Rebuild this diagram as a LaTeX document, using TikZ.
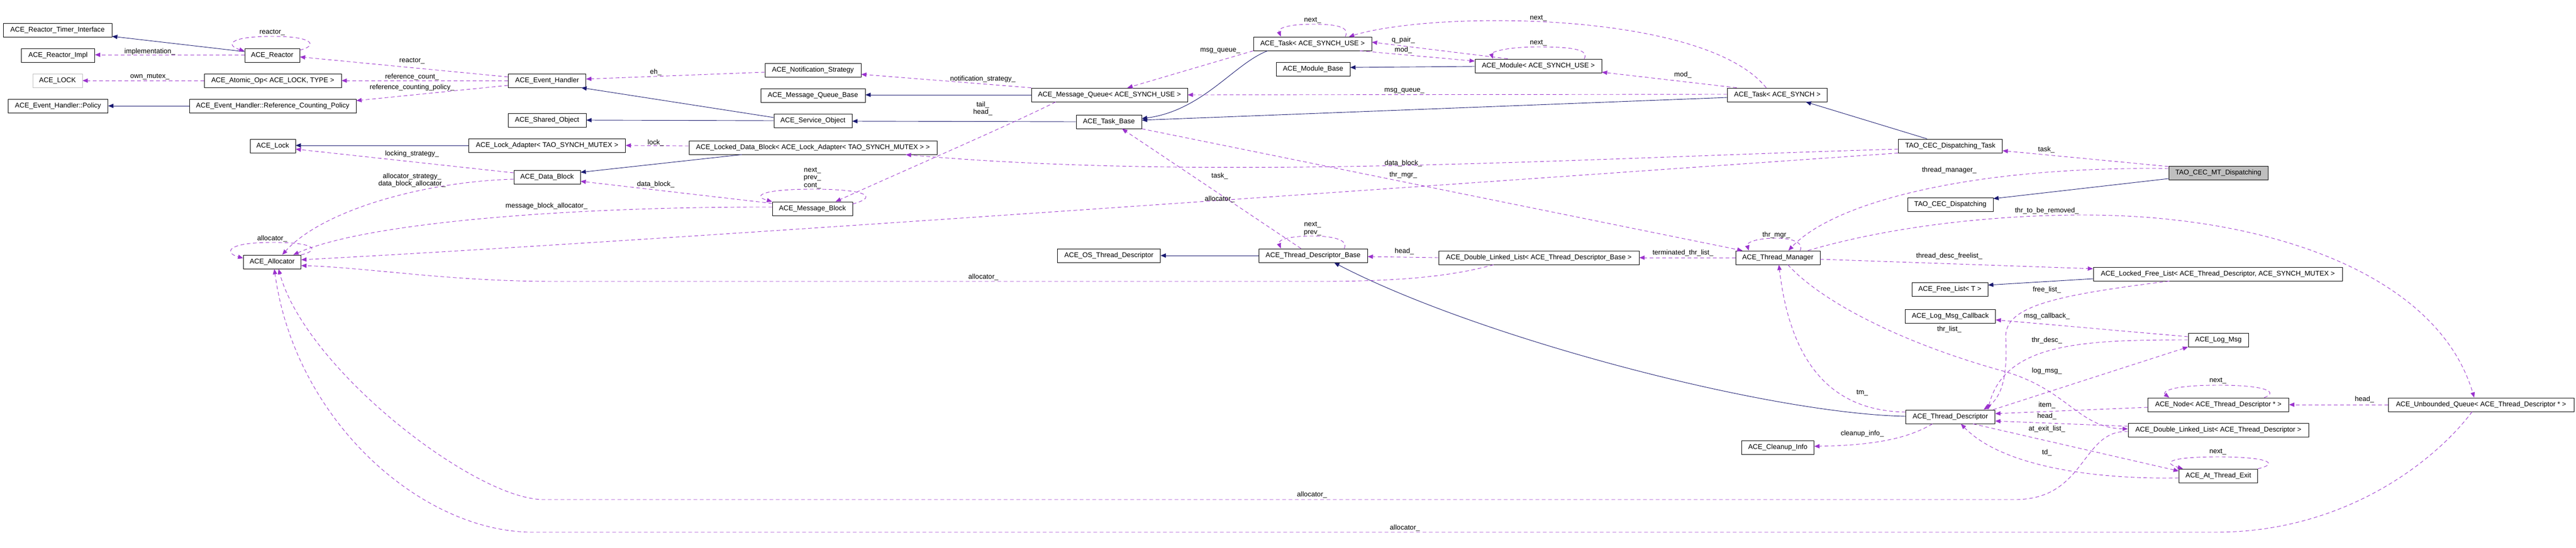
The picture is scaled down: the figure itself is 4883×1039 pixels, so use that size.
\documentclass[tikz,border=0pt]{standalone}
\usepackage{fontspec}
\setmainfont{Liberation Sans}
\usetikzlibrary{arrows.meta}
\definecolor{edgeblue}{HTML}{191970}
\definecolor{edgepurple}{HTML}{9A32CD}
\definecolor{boxgrey}{HTML}{BFBFBF}

\begin{document}
\begin{tikzpicture}[x=1pt, y=-1pt]
    \tikzstyle classbox=[draw=black, line width=0.9pt, fill=white, minimum height=26pt, inner xsep=2pt, inner ysep=0pt, font=\fontsize{13.1}{15}\selectfont]
    \tikzstyle member=[inner sep=0pt, align=center, font=\fontsize{13.1}{14.5}\selectfont]
    \tikzstyle usage=[edgepurple, line width=0.9pt, dash pattern=on 7pt off 5pt, -{Triangle[length=10pt,width=8pt]}]
    \tikzstyle inherit=[edgeblue, line width=0.9pt, -{Triangle[length=10pt,width=8pt]}]
    \fill[white] (0,0) rectangle (4883,1039);
    \useasboundingbox (0,0) rectangle (4883,1039);
    % classes
    \node[classbox, minimum width=206pt] (timer) at (109,57) {ACE\_Reactor\_Timer\_Interface};
    \node[classbox, minimum width=139pt] (rimpl) at (110,105) {ACE\_Reactor\_Impl};
    \node[classbox, minimum width=94pt, draw=boxgrey] (aceLOCK) at (109,153) {ACE\_LOCK};
    \node[classbox, minimum width=189pt] (policy) at (110,201) {ACE\_Event\_Handler::Policy};
    \node[classbox, minimum width=104pt] (reactor) at (516,105) {ACE\_Reactor};
    \node[classbox, minimum width=260pt] (atomic) at (517,153) {ACE\_Atomic\_Op< ACE\_LOCK, TYPE >};
    \node[classbox, minimum width=316pt] (rcpolicy) at (517,201) {ACE\_Event\_Handler::Reference\_Counting\_Policy};
    \node[classbox, minimum width=86pt] (lock) at (517,277) {ACE\_Lock};
    \node[classbox, minimum width=109pt] (allocator) at (516,497) {ACE\_Allocator};
    \node[classbox, minimum width=147pt] (evh) at (1037,153) {ACE\_Event\_Handler};
    \node[classbox, minimum width=148pt] (shobj) at (1037,228) {ACE\_Shared\_Object};
    \node[classbox, minimum width=297pt] (lockadapter) at (1037,276) {ACE\_Lock\_Adapter< TAO\_SYNCH\_MUTEX >};
    \node[classbox, minimum width=126pt] (datablock) at (1037,336) {ACE\_Data\_Block};
    \node[classbox, minimum width=182pt] (notif) at (1541,133) {ACE\_Notification\_Strategy};
    \node[classbox, minimum width=198pt] (mqbase) at (1541,181) {ACE\_Message\_Queue\_Base};
    \node[classbox, minimum width=148pt] (svcobj) at (1541,229) {ACE\_Service\_Object};
    \node[classbox, minimum width=470pt] (lockeddb) at (1541,280) {ACE\_Locked\_Data\_Block< ACE\_Lock\_Adapter< TAO\_SYNCH\_MUTEX > >};
    \node[classbox, minimum width=152pt] (msgblock) at (1540,396) {ACE\_Message\_Block};
    \node[classbox, minimum width=296pt] (mqueue) at (2103,180) {ACE\_Message\_Queue< ACE\_SYNCH\_USE >};
    \node[classbox, minimum width=124pt] (taskbase) at (2102,231) {ACE\_Task\_Base};
    \node[classbox, minimum width=195pt] (osthread) at (2102,485) {ACE\_OS\_Thread\_Descriptor};
    \node[classbox, minimum width=224pt] (taskuse) at (2488,83) {ACE\_Task< ACE\_SYNCH\_USE >};
    \node[classbox, minimum width=140pt] (modbase) at (2489,131) {ACE\_Module\_Base};
    \node[classbox, minimum width=206pt] (tdbase) at (2489,485) {ACE\_Thread\_Descriptor\_Base};
    \node[classbox, minimum width=240pt] (module) at (2916,125) {ACE\_Module< ACE\_SYNCH\_USE >};
    \node[classbox, minimum width=189pt] (tasksynch) at (3369,180) {ACE\_Task< ACE\_SYNCH >};
    \node[classbox, minimum width=380pt] (dlltdb) at (2917,489) {ACE\_Double\_Linked\_List< ACE\_Thread\_Descriptor\_Base >};
    \node[classbox, minimum width=160pt] (thrmgr) at (3370,489) {ACE\_Thread\_Manager};
    \node[classbox, minimum width=137pt] (cleanup) at (3370,849) {ACE\_Cleanup\_Info};
    \node[classbox, minimum width=197pt] (dtask) at (3697,277) {TAO\_CEC\_Dispatching\_Task};
    \node[classbox, minimum width=162pt] (disp) at (3697,388) {TAO\_CEC\_Dispatching};
    \node[classbox, minimum width=144pt] (freelist) at (3696,549) {ACE\_Free\_List< T >};
    \node[classbox, minimum width=171pt] (logcb) at (3697,600) {ACE\_Log\_Msg\_Callback};
    \node[classbox, minimum width=169pt] (thrdesc) at (3697,791) {ACE\_Thread\_Descriptor};
    \node[classbox, minimum width=188pt, fill=boxgrey] (mtdisp) at (4205,328) {TAO\_CEC\_MT\_Dispatching};
    \node[classbox, minimum width=472pt] (lockedfl) at (4204,520) {ACE\_Locked\_Free\_List< ACE\_Thread\_Descriptor, ACE\_SYNCH\_MUTEX >};
    \node[classbox, minimum width=114pt] (logmsg) at (4205,645) {ACE\_Log\_Msg};
    \node[classbox, minimum width=267pt] (node) at (4205,768) {ACE\_Node< ACE\_Thread\_Descriptor * >};
    \node[classbox, minimum width=342pt] (dlltd) at (4205,816) {ACE\_Double\_Linked\_List< ACE\_Thread\_Descriptor >};
    \node[classbox, minimum width=149pt] (atexit) at (4205,903) {ACE\_At\_Thread\_Exit};
    \node[classbox, minimum width=352pt] (uqueue) at (4703,768) {ACE\_Unbounded\_Queue< ACE\_Thread\_Descriptor * >};
    % inheritance
    \draw[inherit] (reactor.west |- 0,98) -- (timer.east |- 0,69);
    \draw[inherit] (rcpolicy.west) -- (policy.east);
    \draw[inherit] (svcobj.west |- 0,223) -- (evh.south -| 1102,0);
    \draw[inherit] (svcobj.west |- 0,229) -- (shobj.east |- 0,228);
    \draw[inherit] (lockadapter.west) -- (lock.east |- 0,276);
    \draw[inherit] (lockeddb.south -| 1406,0) -- (datablock.east |- 0,327);
    \draw[inherit] (mqueue.west) -- (mqbase.east |- 0,180);
    \draw[inherit] (taskbase.west) -- (svcobj.east |- 0,230);
    \draw[inherit] (taskuse.south -| 2403,0) .. controls (2340,120) and (2280,210) .. (taskbase.east |- 0,225);
    \draw[inherit] (module.west |- 0,126) -- (modbase.east |- 0,128);
    \draw[inherit] (tasksynch.west |- 0,185) -- (taskbase.east |- 0,228);
    \draw[inherit] (dtask.north -| 3653,0) -- (tasksynch.south -| 3423,0);
    \draw[inherit] (mtdisp.west |- 0,339) -- (disp.east |- 0,377);
    \draw[inherit] (tdbase.west) -- (osthread.east);
    \draw[inherit] (lockedfl.west |- 0,529) -- (freelist.east |- 0,541);
    \draw[inherit] (thrdesc.west |- 0,790) .. controls (3350,785) and (2800,640) .. (tdbase.south -| 2529,0);
    % members
    \draw[usage] (reactor.west |- 0,104) -- (rimpl.east |- 0,104);
    \draw[usage] (reactor.east |- 0,95) .. controls (600,88) and (600,69) .. (516,69) .. controls (432,69) and (428,86) .. (reactor.west |- 0,97);
    \draw[usage] (atomic.west) -- (aceLOCK.east);
    \draw[usage] (evh.west |- 0,146) -- (reactor.east |- 0,108);
    \draw[usage] (evh.west) -- (atomic.east);
    \draw[usage] (evh.west |- 0,162) -- (rcpolicy.east |- 0,191);
    \draw[usage] (notif.west |- 0,137) -- (evh.east |- 0,150);
    \draw[usage] (datablock.west |- 0,328) -- (lock.east |- 0,283);
    \draw[usage] (lockeddb.west |- 0,277) -- (lockadapter.east |- 0,276);
    \draw[usage] (datablock.west |- 0,340) .. controls (800,345) and (610,400) .. (allocator.north -| 535,0);
    \draw[usage] (msgblock.west |- 0,386) -- (datablock.east |- 0,344);
    \draw[usage] (msgblock.west |- 0,393) .. controls (1100,392) and (700,420) .. (allocator.north -| 556,0);
    \draw[usage] (msgblock.east |- 0,387) .. controls (1662,375) and (1650,359) .. (1540,359) .. controls (1445,359) and (1425,372) .. (msgblock.north west);
    \draw[usage] (allocator.north east) .. controls (604,476) and (604,460) .. (516,460) .. controls (428,460) and (425,480) .. (allocator.west |- 0,490);
    \draw[usage] (mqueue.north west) -- (notif.east |- 0,141);
    \draw[usage] (mqueue.south -| 2001,0) .. controls (1930,230) and (1700,330) .. (msgblock.north -| 1584,0);
    \draw[usage] (taskuse.south west) -- (mqueue.north -| 2137,0);
    \draw[usage] (taskuse.north -| 2550,0) .. controls (2560,50) and (2530,46) .. (2488,46) .. controls (2440,46) and (2422,54) .. (taskuse.north -| 2428,0);
    \draw[usage] (module.north -| 2858,0) -- (taskuse.east |- 0,80);
    \draw[usage] (taskuse.south -| 2578,0) -- (module.west |- 0,116);
    \draw[usage] (module.north -| 3003,0) .. controls (3012,95) and (2985,89) .. (2916,89) .. controls (2850,89) and (2826,100) .. (module.north -| 2830,0);
    \draw[usage] (tasksynch.north -| 3348,0) .. controls (3230,20) and (2720,20) .. (taskuse.north -| 2557,0);
    \draw[usage] (tasksynch.north -| 3292,0) -- (module.east |- 0,137);
    \draw[usage] (tasksynch.west |- 0,179) -- (mqueue.east |- 0,180);
    \draw[usage] (dtask.west |- 0,283) .. controls (3000,300) and (2300,345) .. (lockeddb.south -| 1717,0);
    \draw[usage] (dtask.south west) .. controls (2600,360) and (1200,460) .. (allocator.east |- 0,493);
    \draw[usage] (dlltdb.south -| 2831,0) .. controls (2750,525) and (2650,534) .. (2500,534) -- (1050,534) .. controls (850,534) and (700,508) .. (allocator.east |- 0,504);
    \draw[usage] (dlltd.west |- 0,819) .. controls (3945,815) and (3955,948) .. (3820,948) -- (1030,948) .. controls (900,948) and (580,700) .. (allocator.south -| 528,0);
    \draw[usage] (uqueue.south -| 4686,0) .. controls (4620,870) and (4450,1010) .. (4200,1010) -- (1010,1010) .. controls (800,1010) and (560,800) .. (allocator.south -| 520,0);
    \draw[usage] (taskbase.south east) -- (thrmgr.north -| 3303,0);
    \draw[usage] (tdbase.north -| 2466,0) -- (taskbase.south -| 2127,0);
    \draw[usage] (tdbase.north -| 2548,0) .. controls (2556,456) and (2530,448) .. (2488,448) .. controls (2440,448) and (2422,456) .. (tdbase.north -| 2428,0);
    \draw[usage] (dlltdb.west) -- (tdbase.east |- 0,487);
    \draw[usage] (thrmgr.west) -- (dlltdb.east |- 0,489);
    \draw[usage] (thrmgr.north -| 3412,0) .. controls (3420,462) and (3400,452) .. (3367,452) .. controls (3330,452) and (3310,460) .. (thrmgr.north -| 3315,0);
    \draw[usage] (mtdisp.west |- 0,320) .. controls (3750,315) and (3480,380) .. (thrmgr.north -| 3390,0);
    \draw[usage] (mtdisp.west |- 0,316) -- (dtask.east |- 0,286);
    \draw[usage] (thrmgr.north -| 3427,0) .. controls (3600,425) and (3800,408) .. (3950,408) .. controls (4300,408) and (4620,520) .. (uqueue.north -| 4690,0);
    \draw[usage] (uqueue.west) -- (node.east);
    \draw[usage] (thrmgr.east |- 0,492) -- (lockedfl.west |- 0,510);
    \draw[usage] (lockedfl.south -| 4112,0) .. controls (3900,560) and (3800,580) .. (3802,640) .. controls (3805,700) and (3800,750) .. (thrdesc.north -| 3760,0);
    \draw[usage] (logmsg.west |- 0,639) -- (logcb.east |- 0,607);
    \draw[usage] (logmsg.west |- 0,645) .. controls (3950,645) and (3800,650) .. (thrdesc.north -| 3768,0);
    \draw[usage] (thrdesc.north -| 3778,0) -- (logmsg.south west);
    \draw[usage] (node.west |- 0,773) -- (thrdesc.east |- 0,785);
    \draw[usage] (dlltd.west |- 0,809) -- (thrdesc.east |- 0,799);
    \draw[usage] (thrdesc.south -| 3740,0) -- (atexit.west |- 0,894);
    \draw[usage] (atexit.west |- 0,907) .. controls (3950,910) and (3790,880) .. (thrdesc.south -| 3717,0);
    \draw[usage] (atexit.north east) .. controls (4322,880) and (4300,867) .. (4205,867) .. controls (4112,867) and (4098,878) .. (atexit.north -| 4138,0);
    \draw[usage] (node.north -| 4292,0) .. controls (4318,745) and (4300,731) .. (4205,731) .. controls (4112,731) and (4098,744) .. (node.north -| 4112,0);
    \draw[usage] (thrdesc.west |- 0,782) .. controls (3480,780) and (3395,700) .. (thrmgr.south -| 3372,0);
    \draw[usage] (thrdesc.south -| 3663,0) .. controls (3620,830) and (3560,845) .. (cleanup.east |- 0,847);
    \draw[usage] (thrmgr.south -| 3389,0) .. controls (3450,570) and (3600,650) .. (3800,705) .. controls (3920,740) and (3940,812) .. (dlltd.west |- 0,814);
    % member names
    \node[member] (l1) at (516,62) {reactor\_};
    \node[member] (l2) at (284,98) {implementation\_};
    \node[member] (l3) at (284,146) {own\_mutex\_};
    \node[member] (l4) at (781,116) {reactor\_};
    \node[member] (l5) at (781,146) {reference\_count\_};
    \node[member] (l6) at (781,166) {reference\_counting\_policy\_};
    \node[member] (l7) at (1243,137) {eh\_};
    \node[member] (l8) at (781,292) {locking\_strategy\_};
    \node[member] (l9) at (781,342) {allocator\_strategy\_\\data\_block\_allocator\_};
    \node[member] (l10) at (1243,271) {lock\_};
    \node[member] (l11) at (1243,350) {data\_block\_};
    \node[member] (l12) at (1036,391) {message\_block\_allocator\_};
    \node[member] (l13) at (1540,338) {next\_\\prev\_\\cont\_};
    \node[member] (l14) at (516,453) {allocator\_};
    \node[member] (l15) at (1863,150) {notification\_strategy\_};
    \node[member] (l16) at (1863,206) {tail\_\\head\_};
    \node[member] (l17) at (2313,96) {msg\_queue\_};
    \node[member] (l18) at (2488,39) {next\_};
    \node[member] (l19) at (2660,76) {q\_pair\_};
    \node[member] (l20) at (2660,95) {mod\_};
    \node[member] (l21) at (2916,82) {next\_};
    \node[member] (l22) at (2916,35) {next\_};
    \node[member] (l23) at (3190,142) {mod\_};
    \node[member] (l24) at (2662,172) {msg\_queue\_};
    \node[member] (l25) at (2660,310) {data\_block\_};
    \node[member] (l26) at (2312,378) {allocator\_};
    \node[member] (l27) at (1864,526) {allocator\_};
    \node[member] (l28) at (2487,939) {allocator\_};
    \node[member] (l29) at (2663,1002) {allocator\_};
    \node[member] (l30) at (2660,332) {thr\_mgr\_};
    \node[member] (l31) at (2312,334) {task\_};
    \node[member] (l32) at (2488,434) {next\_\\prev\_};
    \node[member] (l33) at (2662,477) {head\_};
    \node[member] (l34) at (3190,480) {terminated\_thr\_list\_};
    \node[member] (l35) at (3367,446) {thr\_mgr\_};
    \node[member] (l36) at (3695,323) {thread\_manager\_};
    \node[member] (l37) at (3879,284) {task\_};
    \node[member] (l38) at (3880,400) {thr\_to\_be\_removed\_};
    \node[member] (l39) at (4482,758) {head\_};
    \node[member] (l40) at (3695,486) {thread\_desc\_freelist\_};
    \node[member] (l41) at (3880,550) {free\_list\_};
    \node[member] (l42) at (3880,600) {msg\_callback\_};
    \node[member] (l43) at (3880,646) {thr\_desc\_};
    \node[member] (l44) at (3880,704) {log\_msg\_};
    \node[member] (l45) at (3880,769) {item\_};
    \node[member] (l46) at (3880,790) {head\_};
    \node[member] (l47) at (3880,814) {at\_exit\_list\_};
    \node[member] (l48) at (3880,859) {td\_};
    \node[member] (l49) at (4204,858) {next\_};
    \node[member] (l50) at (4204,723) {next\_};
    \node[member] (l51) at (3530,746) {tm\_};
    \node[member] (l52) at (3530,823) {cleanup\_info\_};
    \node[member] (l53) at (3695,625) {thr\_list\_};
\end{tikzpicture}
\end{document}
